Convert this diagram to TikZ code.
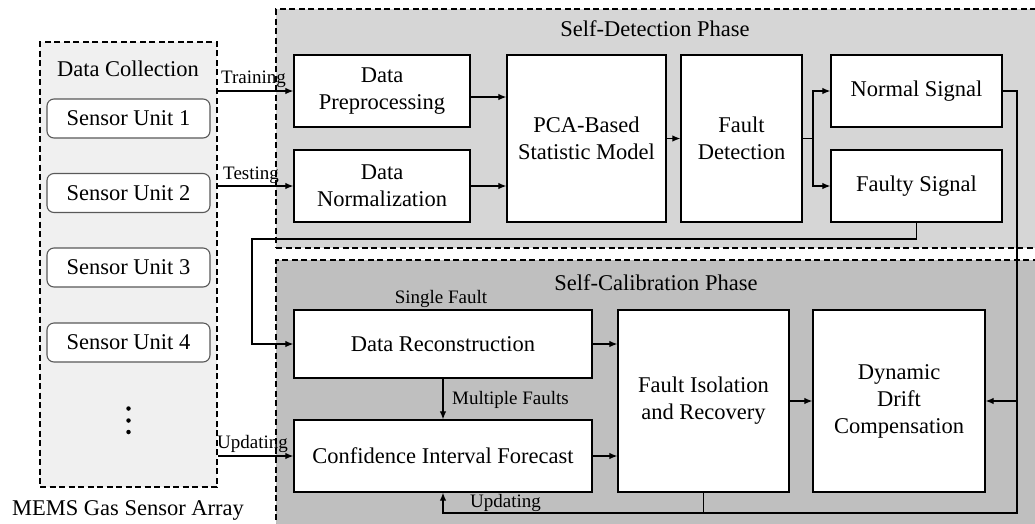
\documentclass[tikz,border=0pt]{standalone}
\usepackage{fontspec}
\setmainfont{Liberation Serif}
\newfontfamily\tnr{Liberation Serif}
\usetikzlibrary{arrows.meta}
\begin{document}
\begin{tikzpicture}[x=1pt,y=-1pt,
  region/.style={draw=black, dashed, dash pattern=on 6pt off 3.5pt, line width=1.1pt, inner sep=0pt},
  box/.style={draw=black, fill=white, line width=1.3pt, align=center, inner sep=0pt,
              font=\tnr\fontsize{22.5}{27}\selectfont},
  sensor/.style={draw=black!65, fill=white, line width=1.1pt, rounded corners=7pt, inner sep=0pt,
              font=\tnr\fontsize{22.5}{27}\selectfont, minimum width=163pt, minimum height=39pt},
  big/.style={font=\tnr\fontsize{22.5}{27}\selectfont, inner sep=0pt},
  small/.style={font=\tnr\fontsize{19}{22}\selectfont, inner sep=0pt},
  conn/.style={line width=1.2pt},
  arr/.style={conn, -{Latex[length=8pt,width=6.5pt]}},
  dot/.style={fill=black, circle, inner sep=0pt, minimum size=4.5pt}
]
\useasboundingbox (0,0) rectangle (1035,523);
\clip (0,0) rectangle (1035,523);

% regions
\node[region, fill=black!6, minimum width=177pt, minimum height=445pt] (dc) at (128.5,264.5) {};
\node[region, fill=black!16, minimum width=764pt, minimum height=239pt] (sdp) at (658,128.5) {};
\node[region, fill=black!25, minimum width=764pt, minimum height=270pt] (scp) at (658,395) {};

% region titles
\node[big, anchor=base] (tdc) at (128,76) {Data Collection};
\node[big, anchor=base] (tsdp) at (655,36) {Self-Detection Phase};
\node[big, anchor=base] (tscp) at (656,290) {Self-Calibration Phase};
\node[big, anchor=base] (tmems) at (128,515) {MEMS Gas Sensor Array};

% sensors
\node[sensor] (su1) at (128.5,118.5) {Sensor Unit 1};
\node[sensor] (su2) at (128.5,193) {Sensor Unit 2};
\node[sensor] (su3) at (128.5,267.5) {Sensor Unit 3};
\node[sensor] (su4) at (128.5,342.5) {Sensor Unit 4};
\node[dot] (d1) at (128.5,408.5) {};
\node[dot] (d2) at (128.5,420.5) {};
\node[dot] (d3) at (128.5,432) {};

% self-detection boxes
\node[box, minimum width=176pt, minimum height=72pt] (dp) at (382,91) {Data\\Preprocessing};
\node[box, minimum width=176pt, minimum height=72pt] (dn) at (382,186) {Data\\Normalization};
\node[box, minimum width=159pt, minimum height=167pt] (pca) at (586.5,138.5) {PCA-Based\\Statistic Model};
\node[box, minimum width=121pt, minimum height=167pt] (fd) at (741.5,138.5) {Fault\\Detection};
\node[box, minimum width=171pt, minimum height=72pt] (ns) at (916.5,91) {Normal Signal};
\node[box, minimum width=171pt, minimum height=72pt] (fs) at (916.5,186) {Faulty Signal};

% self-calibration boxes
\node[box, minimum width=298pt, minimum height=68pt] (dr) at (443,344) {Data Reconstruction};
\node[box, minimum width=298pt, minimum height=72pt] (cif) at (443,456) {Confidence Interval Forecast};
\node[box, minimum width=171pt, minimum height=182pt] (fir) at (703.5,401) {Fault Isolation\\and Recovery};
\node[box, minimum width=172pt, minimum height=182pt] (ddc) at (899,401) {Dynamic\\Drift\\Compensation};

% helper coordinates
\coordinate (br) at (813,138.5);
\coordinate (c1) at (252,239);
\coordinate (r1) at (1017,513);

% inputs
\draw[arr] (dc.east |- dp.west) -- (dp.west);
\draw[arr] (dc.east |- dn.west) -- (dn.west);
\draw[arr] (dc.east |- cif.west) -- (cif.west);
\node[small, anchor=base west] (ltr) at (221,83) {Training};
\node[small, anchor=base west] (lte) at (223,179) {Testing};
\node[small, anchor=base west] (lup) at (217,448) {Updating};

% detection flow
\draw[arr] ([yshift=-6pt]dp.east) -- ([yshift=-6pt]dp.east -| pca.west);
\draw[arr] (dn.east) -- (dn.east -| pca.west);
\draw[arr] (pca.east) -- (fd.west);
\draw[conn] (fd.east) -- (br);
\draw[arr] (br) |- (ns.west);
\draw[arr] (br) |- (fs.west);

% faulty -> reconstruction
\draw[arr] (fs.south) |- (c1) |- (dr.west);

% calibration flow
\node[small, anchor=base] (lsf) at (441,303) {Single Fault};
\draw[arr] (dr.south) -- (cif.north);
\node[small, anchor=base west] (lmf) at (452,404) {Multiple Faults};
\draw[arr] (dr.east) -- (dr.east -| fir.west);
\draw[arr] (cif.east) -- (cif.east -| fir.west);
\draw[arr] (fir.east) -- (ddc.west);

% normal signal loop and updating
\draw[arr] (ns.east) -| (r1) -| (cif.south);
\draw[arr] (r1 |- ddc.east) -- (ddc.east);
\draw[conn] (fir.south) -- (fir.south |- r1);
\node[small, anchor=base west] (lup2) at (470,507) {Updating};
\end{tikzpicture}
\end{document}
